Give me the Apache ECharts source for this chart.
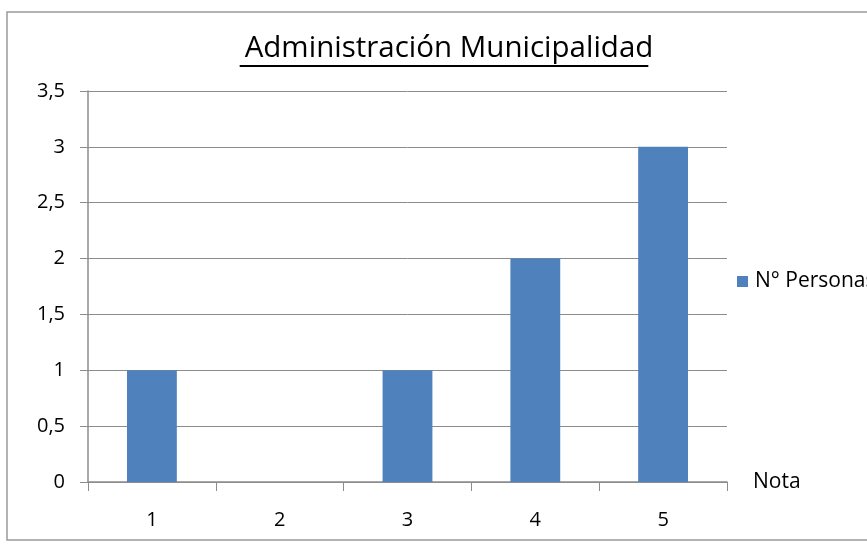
<!DOCTYPE html>
<html>
<head>
<meta charset="utf-8">
<script src="https://cdn.jsdelivr.net/npm/echarts@6/dist/echarts.min.js"></script>
<style>html,body{margin:0;padding:0;background:#fff}#c{width:867px;height:545px}</style>
</head>
<body>
<div id="c"></div>
<script>
const categories = ['1', '2', '3', '4', '5'];
const personas = [1, 0, 1, 2, 3];
const yTicks = [0, 0.5, 1, 1.5, 2, 2.5, 3, 3.5];
const titleText = 'Administración Municipalidad';
const seriesName = 'N° Personas';
const xName = 'Nota';

const FONT = '"Open Sans", "Noto Sans", sans-serif';
const titleSize = 29.5;
const cv = document.createElement('canvas').getContext('2d');
cv.font = titleSize + 'px ' + FONT;
const tw = cv.measureText(titleText).width;
const titleCx = 444;

const chart = echarts.init(document.getElementById('c'), null, {renderer: 'canvas'});
chart.setOption({
  animation: false,
  backgroundColor: '#ffffff',
  title: {
    text: titleText,
    left: titleCx, top: 29,
    textAlign: 'center',
    textStyle: {fontFamily: FONT, fontSize: titleSize, fontWeight: 'normal', color: '#000'}
  },
  graphic: [
    {type: 'rect', shape: {x: 7, y: 12, width: 900, height: 528}, style: {fill: 'none', stroke: '#9a9a9a', lineWidth: 1.5}, silent: true, z: -10},
    {type: 'line', shape: {x1: titleCx - tw / 2, y1: 66, x2: titleCx + tw / 2, y2: 66}, style: {stroke: '#000', lineWidth: 2}}
  ],
  legend: {
    data: [seriesName],
    orient: 'vertical',
    left: 732, top: 266,
    itemWidth: 11, itemHeight: 11, itemGap: 4,
    icon: 'rect',
    textStyle: {fontFamily: FONT, fontSize: 21, color: '#000', padding: [0, 0, 0, 2]}
  },
  grid: {left: 88, right: 140, top: 91, bottom: 63},
  xAxis: {
    type: 'category',
    data: categories,
    name: xName,
    nameLocation: 'end',
    nameGap: 26,
    nameTextStyle: {fontFamily: FONT, fontSize: 21, color: '#000', verticalAlign: 'middle'},
    axisLine: {lineStyle: {color: '#8c8c8c', width: 1.5}},
    axisTick: {show: true, length: 9, inside: false, alignWithLabel: false, lineStyle: {color: '#8c8c8c'}},
    axisLabel: {fontFamily: FONT, fontSize: 20, color: '#000', margin: 28},
    splitLine: {show: false}
  },
  yAxis: {
    type: 'value',
    min: 0, max: 3.5, interval: 0.5,
    axisLine: {show: true, lineStyle: {color: '#8c8c8c', width: 1.5}},
    axisTick: {show: true, length: 8, lineStyle: {color: '#8c8c8c'}},
    axisLabel: {fontFamily: FONT, fontSize: 20, color: '#000', margin: 23,
      formatter: v => (yTicks.includes(v) ? String(v).replace('.', ',') : '')},
    splitLine: {lineStyle: {color: '#8c8c8c', width: 1}}
  },
  series: [{
    name: seriesName,
    type: 'bar',
    data: personas,
    barWidth: '39%',
    itemStyle: {color: '#4f81bd'}
  }]
});
</script>
</body>
</html>
